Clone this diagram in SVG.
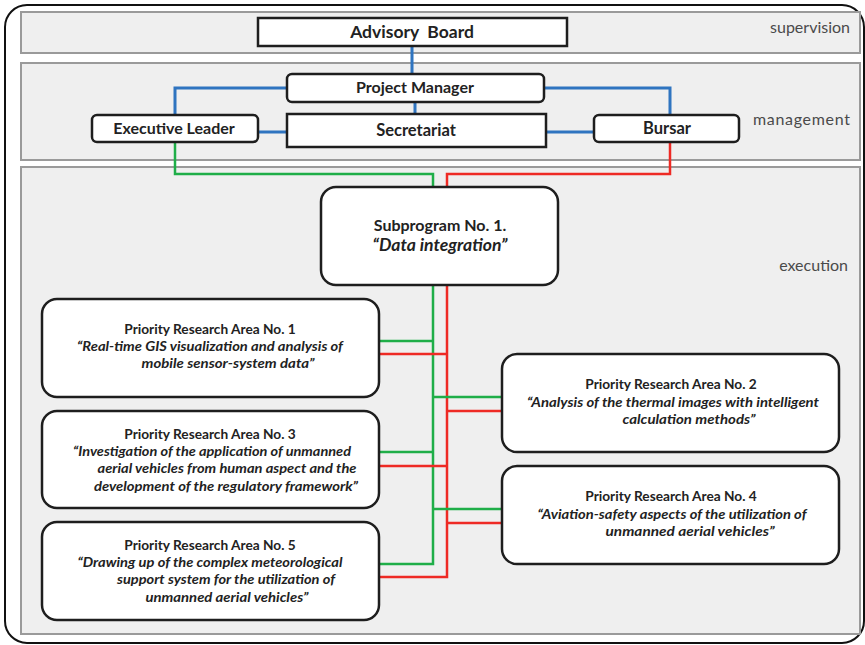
<svg xmlns="http://www.w3.org/2000/svg" width="865" height="645" viewBox="0 0 865 645">
<style>
.frame{fill:#fff;stroke:#111;stroke-width:2}
.band{fill:#efefef;stroke:#9a9a9a;stroke-width:2}
.box{fill:#fff;stroke:#1e1e1e;stroke-width:2.5}
.lbl{font-family:Lato,"Open Sans",sans-serif;font-size:16px;fill:#4a4a4a;text-anchor:end}
.t{font-family:Lato,"Open Sans",sans-serif;font-weight:bold;fill:#222;text-anchor:middle}
.top{font-size:17.5px}
.mid{font-size:16px}
.big{font-size:16.5px}
.h{font-size:13.7px}
.i{font-size:13.5px;font-style:italic}
.si{font-size:16.5px;font-style:italic}
.blue{fill:none;stroke:#2f74c0;stroke-width:3}
.green{fill:none;stroke:#1fae48;stroke-width:2.5}
.red{fill:none;stroke:#ee2a24;stroke-width:2.5}
</style>
<rect class="frame" x="5" y="5" width="859" height="638" rx="22"/>
<g id="bands">
<rect class="band" x="21" y="12" width="839" height="41"/>
<rect class="band" x="21" y="63" width="839" height="97"/>
<rect class="band" x="21" y="167" width="839" height="467"/>
<text class="lbl" x="850" y="33">supervision</text>
<text class="lbl" x="850" y="125" textLength="97">management</text>
<text class="lbl" x="848" y="271">execution</text>
</g>
<g id="connectors">
<path class="blue" d="M412,46V74M415,102V114M287,88H175V115M544,88H670V115M258,132H287M546,132H594"/>
<path class="green" d="M175,142V174H433V187M433,285V564H379M379,341H433M379,452H433"/>
<path class="red" d="M670,142V174H447V187M447,285V577H379M379,354H447M379,466H447M447,411H502M447,523H502"/>
<path class="green" d="M433,397H502M433,509H502"/>
</g>
<g id="advisory-board">
<rect class="box" x="258" y="18" width="309" height="28"/>
<text class="t top" x="412" y="38" xml:space="preserve">Advisory  Board</text>
</g>
<g id="project-manager">
<rect class="box" x="287" y="74" width="257" height="28" rx="5"/>
<text class="t mid" x="415" y="93">Project Manager</text>
</g>
<g id="secretariat">
<rect class="box" x="287" y="114" width="259" height="33"/>
<text class="t big" x="416" y="136">Secretariat</text>
</g>
<g id="executive-leader">
<rect class="box" x="92" y="115" width="166" height="27" rx="5"/>
<text class="t mid" x="174" y="134">Executive Leader</text>
</g>
<g id="bursar">
<rect class="box" x="594" y="115" width="145" height="27" rx="5"/>
<text class="t big" x="667" y="134">Bursar</text>
</g>
<g id="subprogram">
<rect class="box" x="321" y="187" width="237" height="98" rx="15"/>
<text class="t mid" x="440" y="231">Subprogram No. 1.</text>
<text class="t si" x="440" y="251" textLength="135" lengthAdjust="spacingAndGlyphs">“Data integration”</text>
</g>
<g id="pra1">
<rect class="box" x="42" y="299" width="337" height="98" rx="15"/>
<text class="t h" x="210" y="334">Priority Research Area No. 1</text>
<text class="t i" x="210" y="351" textLength="266" lengthAdjust="spacingAndGlyphs">“Real-time GIS visualization and analysis of</text>
<text class="t i" x="228" y="368" textLength="173" lengthAdjust="spacingAndGlyphs">mobile sensor-system data”</text>
</g>
<g id="pra3">
<rect class="box" x="42" y="411" width="337" height="97" rx="15"/>
<text class="t h" x="210" y="439">Priority Research Area No. 3</text>
<text class="t i" x="212" y="456" textLength="278" lengthAdjust="spacingAndGlyphs">“Investigation of the application of unmanned</text>
<text class="t i" x="227" y="473" textLength="259" lengthAdjust="spacingAndGlyphs">aerial vehicles from human aspect and the</text>
<text class="t i" x="226" y="491" textLength="264" lengthAdjust="spacingAndGlyphs">development of the regulatory framework”</text>
</g>
<g id="pra5">
<rect class="box" x="42" y="522" width="337" height="98" rx="15"/>
<text class="t h" x="210" y="550">Priority Research Area No. 5</text>
<text class="t i" x="210" y="567" textLength="265" lengthAdjust="spacingAndGlyphs">“Drawing up of the complex meteorological</text>
<text class="t i" x="226" y="584" textLength="218" lengthAdjust="spacingAndGlyphs">support system for the utilization of</text>
<text class="t i" x="227" y="602" textLength="163" lengthAdjust="spacingAndGlyphs">unmanned aerial vehicles”</text>
</g>
<g id="pra2">
<rect class="box" x="502" y="354" width="337" height="98" rx="15"/>
<text class="t h" x="671" y="389">Priority Research Area No. 2</text>
<text class="t i" x="673" y="407" textLength="292" lengthAdjust="spacingAndGlyphs">“Analysis of the thermal images with intelligent</text>
<text class="t i" x="689" y="424" textLength="133" lengthAdjust="spacingAndGlyphs">calculation methods”</text>
</g>
<g id="pra4">
<rect class="box" x="502" y="466" width="337" height="98" rx="15"/>
<text class="t h" x="671" y="501">Priority Research Area No. 4</text>
<text class="t i" x="672" y="519" textLength="269" lengthAdjust="spacingAndGlyphs">“Aviation-safety aspects of the utilization of</text>
<text class="t i" x="690" y="536" textLength="169" lengthAdjust="spacingAndGlyphs">unmanned aerial vehicles”</text>
</g>
</svg>
